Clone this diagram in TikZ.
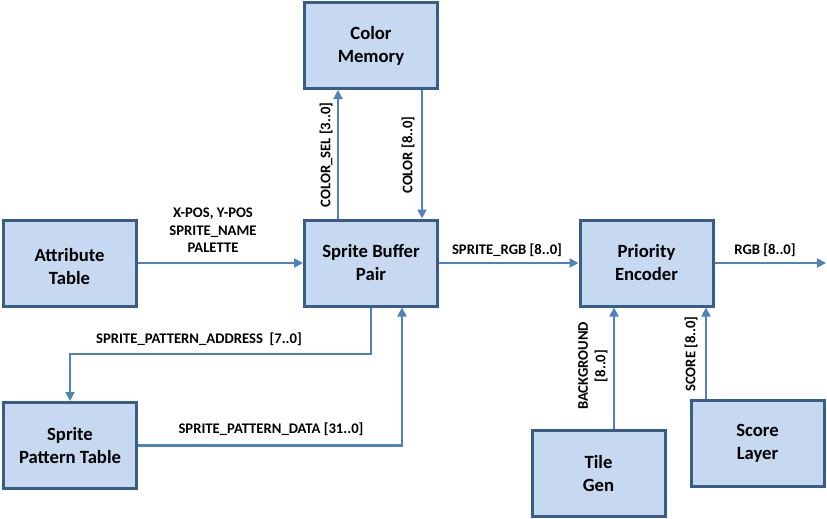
\documentclass[tikz,border=0pt]{standalone}
\usepackage{fontspec}
\setmainfont{Carlito}
\usetikzlibrary{arrows.meta}
\definecolor{boxfill}{HTML}{C6D9F1}
\definecolor{boxline}{HTML}{395D89}
\definecolor{sigline}{HTML}{4F81BD}
\begin{document}
\begin{tikzpicture}[x=1pt, y=-1pt,
    block/.style={draw=boxline, fill=boxfill, line width=3pt, minimum width=133pt,
      minimum height=86pt, align=center, font=\fontsize{18.67}{23}\selectfont\bfseries},
    sig/.style={draw=sigline, line width=2.8pt, -{Triangle[width=9pt,length=9pt]}},
    lbl/.style={font=\fontsize{14.67}{17.5}\selectfont\bfseries, inner sep=0pt, align=center}]
    \useasboundingbox (0,0) rectangle (827,519);

    % Blocks
    \node[block] (colmem) at (371, 45.5) {Color\\Memory};
    \node[block] (attr) at (69.5, 263) {\raisebox{-5pt}[\height][\depth]{\begin{tabular}{@{}c@{}}Attribute\\Table\end{tabular}}};
    \node[block] (sbp) at (371, 263) {Sprite Buffer\\Pair};
    \node[block] (prio) at (646.5, 263) {Priority\\Encoder};
    \node[block] (spt) at (70, 445.5) {Sprite\\Pattern Table};
    \node[block] (tile) at (598.5, 473.5) {Tile\\Gen};
    \node[block] (score) at (757.5, 443) {Score\\Layer};

    % Free ends and bends
    \coordinate (rgbout) at (826, 263);
    \coordinate (addrbend) at (371, 354);

    % Signals
    \draw[sig] ([xshift=-33pt]sbp.north) -- ([xshift=-33pt]colmem.south);
    \draw[sig] ([xshift=51pt]colmem.south) -- ([xshift=51pt]sbp.north);
    \draw[sig] (attr.east) -- (sbp.west);
    \draw[sig] (sbp.east) -- (prio.west);
    \draw[sig] (prio.east) -- (rgbout);
    \draw[sig] (sbp.south) -- (addrbend) -| (spt.north);
    \draw[sig] (spt.east) -| ([xshift=31pt]sbp.south);
    \draw[sig] ([xshift=15.5pt]tile.north) -- ([xshift=-32.5pt]prio.south);
    \draw[sig] ([xshift=-51.5pt]score.north) -- ([xshift=59.5pt]prio.south);

    % Labels
    \node[lbl] (attrlbl) at (213, 230.5) {X-POS, Y-POS\\SPRITE\_NAME\\PALETTE};
    \node[lbl] (colsellbl) at (326, 155) [rotate=90] {COLOR\_SEL [3..0]};
    \node[lbl] (colorlbl) at (408, 155) [rotate=90] {COLOR [8..0]};
    \node[lbl] (rgblbl) at (507, 250) {SPRITE\_RGB [8..0]};
    \node[lbl] (outlbl) at (765, 250) {RGB [8..0]};
    \node[lbl] (addrlbl) at (199, 339) {SPRITE\_PATTERN\_ADDRESS\ \ [7..0]};
    \node[lbl] (datalbl) at (271, 429) {SPRITE\_PATTERN\_DATA [31..0]};
    \node[lbl] (bglbl) at (593, 366) [rotate=90] {BACKGROUND\\{[8..0]}};
    \node[lbl] (scorelbl) at (691, 354) [rotate=90] {SCORE [8..0]};
\end{tikzpicture}
\end{document}
